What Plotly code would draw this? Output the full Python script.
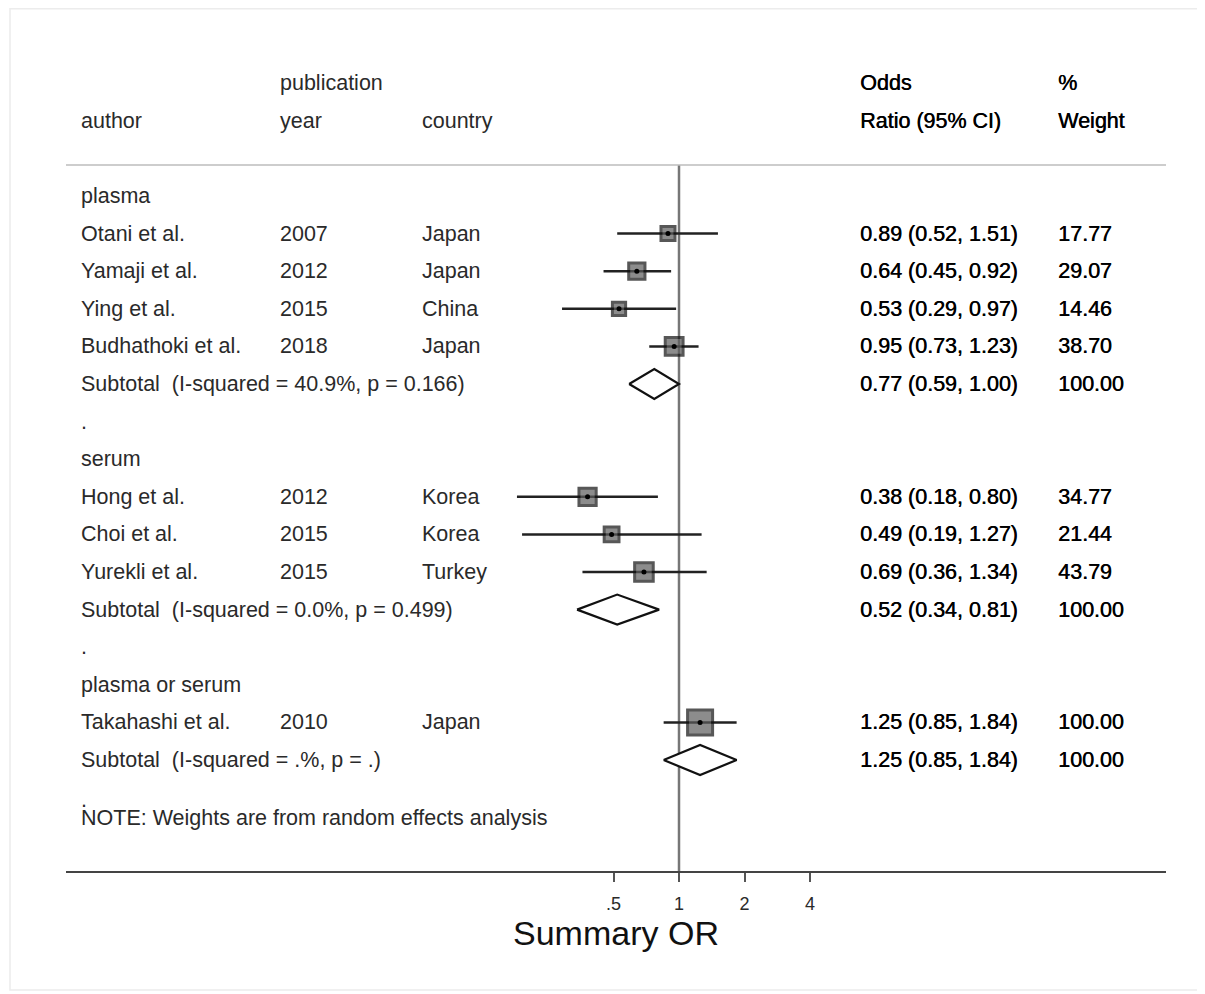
import math
import plotly.graph_objects as go

# ---------------- data ----------------
group_names = ["plasma", "serum", "plasma or serum"]
study_author = ["Otani et al.", "Yamaji et al.", "Ying et al.", "Budhathoki et al.",
                "Hong et al.", "Choi et al.", "Yurekli et al.", "Takahashi et al."]
study_year = ["2007", "2012", "2015", "2018", "2012", "2015", "2015", "2010"]
study_country = ["Japan", "Japan", "China", "Japan", "Korea", "Korea", "Turkey", "Japan"]
study_group = [0, 0, 0, 0, 1, 1, 1, 2]
study_or = [0.89, 0.64, 0.53, 0.95, 0.38, 0.49, 0.69, 1.25]
study_lo = [0.52, 0.45, 0.29, 0.73, 0.18, 0.19, 0.36, 0.85]
study_hi = [1.51, 0.92, 0.97, 1.23, 0.80, 1.27, 1.34, 1.84]
study_weight = [17.77, 29.07, 14.46, 38.70, 34.77, 21.44, 43.79, 100.00]

sub_label = ["Subtotal  (I-squared = 40.9%, p = 0.166)",
             "Subtotal  (I-squared = 0.0%, p = 0.499)",
             "Subtotal  (I-squared = .%, p = .)"]
sub_or = [0.77, 0.52, 1.25]
sub_lo = [0.59, 0.34, 0.85]
sub_hi = [1.00, 0.81, 1.84]
sub_weight = [100.00, 100.00, 100.00]

tick_vals = [0.5, 1, 2, 4]
tick_text = [".5", "1", "2", "4"]
note_text = "NOTE: Weights are from random effects analysis"

# ---------------- layout helpers ----------------
W, H = 1205, 994
OFF = 8  # page body margin offset
FONT = "Liberation Sans"
FS = 21.5
TXT = "#2a2a2a"
HEAVY = "0.5px 0 0 #000000"


def px(v):
    return v - OFF


# row positions (row units; one row = one line of the table)
rows_study = []
rows_sub = []
rows_group = []
rows_dot = []
r = 0
for g in range(len(group_names)):
    rows_group.append(r)
    r += 1
    for i, sg in enumerate(study_group):
        if sg == g:
            rows_study.append(r)
            r += 1
    rows_sub.append(r)
    r += 1
    rows_dot.append(r)
    r += 1
note_row = rows_dot[-1] + 0.55

row0_px = px(196.0)
row_px = 37.6
y_top = (0 - row0_px) / row_px
y_bot = (H - row0_px) / row_px
axis_px = px(872)
axis_row = (axis_px - row0_px) / row_px
sep_row = (px(165) - row0_px) / row_px

col_author = px(78.5) / W
col_year = px(277.5) / W
col_country = px(419.5) / W
col_or = px(858) / W
col_wt = px(1056) / W

fig = go.Figure()

# reference line at OR = 1
fig.add_trace(go.Scatter(x=[1, 1], y=[sep_row, axis_row], mode="lines",
                         line=dict(color="#777777", width=2.5), hoverinfo="skip"))

# confidence intervals
for i in range(len(study_or)):
    fig.add_trace(go.Scatter(x=[study_lo[i], study_hi[i]], y=[rows_study[i]] * 2,
                             mode="lines", line=dict(color="#222222", width=2.5),
                             hoverinfo="skip"))

# weight boxes
fig.add_trace(go.Scatter(
    x=study_or, y=rows_study, mode="markers",
    marker=dict(symbol="square", size=[6 + 1.9 * math.sqrt(w) for w in study_weight],
                color="#5c5c5c", line=dict(color="#111111", width=3)),
    hoverinfo="skip"))
# point estimates
fig.add_trace(go.Scatter(x=study_or, y=rows_study, mode="markers",
                         marker=dict(symbol="circle", size=5, color="#000000"),
                         hoverinfo="skip"))

# pooled diamonds
half_h = 0.4
for g in range(len(sub_or)):
    yr = rows_sub[g]
    fig.add_trace(go.Scatter(
        x=[sub_lo[g], sub_or[g], sub_hi[g], sub_or[g], sub_lo[g]],
        y=[yr, yr - half_h, yr, yr + half_h, yr],
        mode="lines", fill="toself", fillcolor="white",
        line=dict(color="#111111", width=2.2), hoverinfo="skip"))

ann = []


def txt(x, y, s, size=FS, color=TXT, shadow=None):
    f = dict(family=FONT, size=size, color=color)
    if shadow:
        f["shadow"] = shadow
    ann.append(dict(x=x, y=y, xref="paper", yref="y", text=s, showarrow=False,
                    xanchor="left", yanchor="middle", font=f))


def rtxt(x, y, s):
    txt(x, y, s, color="#000000", shadow=HEAVY)


# headers
txt(col_year, -3, "publication")
txt(col_author, -2, "author")
txt(col_year, -2, "year")
txt(col_country, -2, "country")
rtxt(col_or, -3, "Odds")
rtxt(col_or, -2, "Ratio (95% CI)")
rtxt(col_wt, -3, "%")
rtxt(col_wt, -2, "Weight")

for g in range(len(group_names)):
    txt(col_author, rows_group[g], group_names[g])
    txt(col_author, rows_sub[g], sub_label[g])
    rtxt(col_or, rows_sub[g], f"{sub_or[g]:.2f} ({sub_lo[g]:.2f}, {sub_hi[g]:.2f})")
    rtxt(col_wt, rows_sub[g], f"{sub_weight[g]:.2f}")
    txt(col_author, rows_dot[g] + (0.07 if g == len(group_names) - 1 else 0), ".")

for i in range(len(study_author)):
    yr = rows_study[i]
    txt(col_author, yr, study_author[i])
    txt(col_year, yr, study_year[i])
    txt(col_country, yr, study_country[i])
    rtxt(col_or, yr, f"{study_or[i]:.2f} ({study_lo[i]:.2f}, {study_hi[i]:.2f})")
    rtxt(col_wt, yr, f"{study_weight[i]:.2f}")

txt(col_author, note_row, note_text)

shapes = [
    # header separator
    dict(type="line", xref="paper", yref="y", x0=px(66) / W, x1=px(1166) / W,
         y0=sep_row, y1=sep_row, line=dict(color="#bdbdbd", width=1.5)),
    # faint outer frame
    dict(type="rect", xref="paper", yref="paper", x0=px(10) / W, x1=px(1203) / W,
         y0=1 - px(990) / H, y1=1 - 0.8 / H, line=dict(color="#ececec", width=1.5)),
]

x_lo_px, x_hi_px, one_px = px(66), px(1166), px(679)
px_per_dec = 65.5 / math.log10(2)
xr = [(x_lo_px - one_px) / px_per_dec, (x_hi_px - one_px) / px_per_dec]

fig.update_layout(
    width=W, height=H,
    margin=dict(l=0, r=0, t=0, b=0),
    paper_bgcolor="white", plot_bgcolor="white",
    showlegend=False, hovermode=False,
    annotations=ann, shapes=shapes,
    xaxis=dict(type="log", range=xr, domain=[x_lo_px / W, x_hi_px / W],
               anchor="free", position=(H - axis_px) / H,
               showline=True, linecolor="#444444", linewidth=2,
               showgrid=False, zeroline=False,
               tickmode="array", tickvals=tick_vals, ticktext=tick_text,
               ticks="outside", ticklen=9, tickwidth=2, tickcolor="#555555",
               ticklabelstandoff=6,
               tickfont=dict(family=FONT, size=18, color=TXT),
               title=dict(text="Summary OR", font=dict(family=FONT, size=34, color="#111111"),
                          standoff=4)),
    yaxis=dict(range=[y_bot, y_top], domain=[0, 1], visible=False,
               showgrid=False, zeroline=False),
)

fig.write_html("out.html")
